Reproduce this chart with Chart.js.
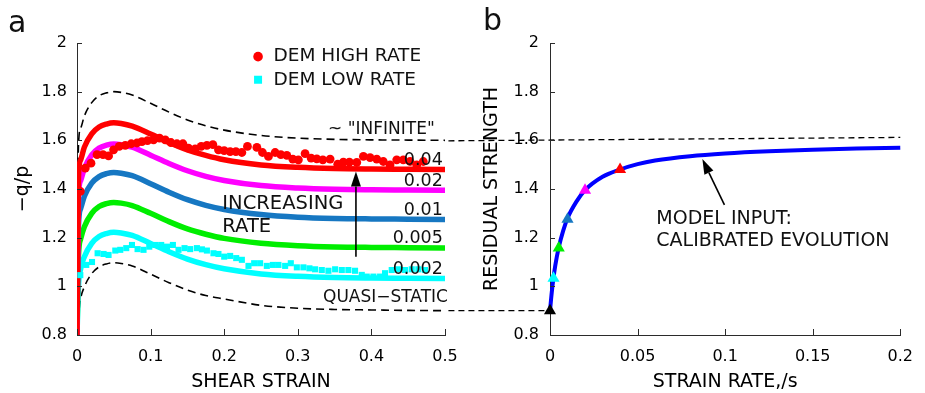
<!DOCTYPE html>
<html>
<head>
<meta charset="utf-8">
<script src="https://cdn.jsdelivr.net/npm/chart.js@4.4.1/dist/chart.umd.min.js"></script>
<style>
  html, body { margin: 0; padding: 0; background: #fff; }
  #wrap { position: relative; width: 925px; height: 393px; }
  #wrap canvas { position: absolute; left: 0; top: 0; }
</style>
</head>
<body>
<div id="wrap">
  <canvas id="strainChart" width="925" height="393"></canvas>
  <canvas id="rateChart" width="925" height="393"></canvas>
</div>
<script>
// ---------- panel a: stress ratio against shear strain ----------
const strainTicks = [0, 0.1, 0.2, 0.3, 0.4, 0.5];
const ratioTicks = [0.8, 1, 1.2, 1.4, 1.6, 1.8, 2];

const strain = [0, 0.002, 0.005, 0.01, 0.02, 0.03, 0.04, 0.05, 0.06, 0.075, 0.1,
  0.125, 0.15, 0.175, 0.2, 0.25, 0.3, 0.35, 0.4, 0.45, 0.5];

const ratioInfinite = [0.8, 1.58, 1.65, 1.70, 1.755, 1.783, 1.795, 1.80, 1.797, 1.786, 1.752,
  1.716, 1.684, 1.66, 1.642, 1.62, 1.609, 1.604, 1.602, 1.601, 1.60];
const ratio004 = [0.8, 1.45, 1.52, 1.572, 1.627, 1.655, 1.667, 1.672, 1.669, 1.658, 1.626,
  1.591, 1.561, 1.538, 1.52, 1.499, 1.489, 1.484, 1.482, 1.481, 1.48];
const ratio002 = [0.8, 1.365, 1.435, 1.485, 1.54, 1.568, 1.58, 1.585, 1.582, 1.572, 1.539,
  1.505, 1.475, 1.452, 1.435, 1.414, 1.404, 1.399, 1.397, 1.396, 1.395];
const ratio001 = [0.8, 1.25, 1.32, 1.37, 1.424, 1.451, 1.463, 1.468, 1.465, 1.455, 1.422,
  1.387, 1.356, 1.333, 1.316, 1.295, 1.284, 1.279, 1.277, 1.276, 1.275];
const ratio0005 = [0.8, 1.125, 1.195, 1.245, 1.3, 1.328, 1.340, 1.345, 1.342, 1.332, 1.3,
  1.266, 1.236, 1.214, 1.197, 1.177, 1.167, 1.162, 1.16, 1.159, 1.158];
const ratio0002 = [0.8, 1.0, 1.072, 1.122, 1.177, 1.205, 1.217, 1.222, 1.219, 1.209, 1.176,
  1.142, 1.112, 1.089, 1.072, 1.051, 1.041, 1.036, 1.034, 1.033, 1.032];
const ratioQuasi = [0.8, 0.88, 0.95, 0.998, 1.052, 1.08, 1.092, 1.097, 1.094, 1.084, 1.05,
  1.015, 0.985, 0.962, 0.948, 0.922, 0.91, 0.905, 0.903, 0.901, 0.90];

const curveRates = [0.04, 0.02, 0.01, 0.005, 0.002];

// DEM simulations
const demHighStrain = [0.0045, 0.0113, 0.019, 0.0272, 0.0353, 0.0429, 0.0497, 0.0574, 0.0656, 0.0737,
  0.0815, 0.0882, 0.0958, 0.104, 0.1121, 0.1199, 0.1276, 0.1358, 0.1439, 0.1515,
  0.1606, 0.1687, 0.1765, 0.1846, 0.1922, 0.2, 0.2081, 0.2159, 0.224, 0.2316,
  0.2444, 0.252, 0.2601, 0.2692, 0.2769, 0.2851, 0.2932, 0.3008, 0.3099, 0.3181,
  0.3258, 0.334, 0.3439, 0.3543, 0.3619, 0.3701, 0.3801, 0.3891, 0.3982, 0.4073,
  0.4162, 0.4253, 0.4344, 0.4434, 0.4525, 0.4616, 0.4705];
const demHighRatio = [1.39, 1.486, 1.506, 1.541, 1.541, 1.536, 1.561, 1.575, 1.579, 1.586,
  1.589, 1.595, 1.599, 1.602, 1.609, 1.602, 1.591, 1.586, 1.586, 1.568,
  1.565, 1.575, 1.579, 1.582, 1.561, 1.558, 1.554, 1.554, 1.55, 1.575,
  1.571, 1.55, 1.534, 1.55, 1.541, 1.538, 1.523, 1.52, 1.545, 1.527,
  1.524, 1.52, 1.523, 1.502, 1.51, 1.51, 1.509, 1.534, 1.529, 1.523,
  1.513, 1.499, 1.52, 1.52, 1.513, 1.499, 1.513];

const demLowStrain = [0.0045, 0.0126, 0.0204, 0.028, 0.0361, 0.0429, 0.052, 0.0588, 0.0669, 0.0747,
  0.0823, 0.0904, 0.0982, 0.1063, 0.1144, 0.1222, 0.1303, 0.1379, 0.1461, 0.1538,
  0.1629, 0.1697, 0.1765, 0.1854, 0.1922, 0.2, 0.2081, 0.2163, 0.224, 0.233,
  0.2407, 0.2488, 0.2579, 0.2661, 0.2737, 0.2828, 0.2905, 0.2987, 0.3076, 0.3158,
  0.3235, 0.3326, 0.3416, 0.3507, 0.3598, 0.3687, 0.3778, 0.3869, 0.3937, 0.4027,
  0.4118, 0.4185, 0.4276, 0.4366, 0.4457, 0.4548, 0.4638, 0.4728];
const demLowRatio = [1.046, 1.088, 1.10, 1.136, 1.133, 1.129, 1.147, 1.15, 1.157, 1.17,
  1.153, 1.15, 1.163, 1.17, 1.17, 1.163, 1.17, 1.15, 1.157, 1.153,
  1.157, 1.152, 1.147, 1.136, 1.133, 1.122, 1.125, 1.116, 1.109, 1.084,
  1.095, 1.095, 1.084, 1.088, 1.088, 1.084, 1.095, 1.078, 1.078, 1.074,
  1.07, 1.067, 1.064, 1.07, 1.067, 1.067, 1.064, 1.047, 1.04, 1.04,
  1.04, 1.054, 1.067, 1.07, 1.067, 1.07, 1.07, 1.067];

// ---------- panel b: residual strength against strain rate ----------
const rateTicks = [0, 0.05, 0.1, 0.15, 0.2];
const evolutionRate = [0, 0.001, 0.002, 0.003, 0.005, 0.0075, 0.01, 0.015, 0.02, 0.03,
  0.04, 0.05, 0.06, 0.08, 0.1, 0.125, 0.15, 0.175, 0.2];
const evolutionStrength = [0.9, 0.975, 1.035, 1.085, 1.16, 1.228, 1.28, 1.347, 1.395, 1.45,
  1.48, 1.502, 1.517, 1.535, 1.546, 1.555, 1.561, 1.566, 1.57];
const residualRates = [0, 0.002, 0.005, 0.01, 0.02, 0.04];
const residualStrength = [0.9, 1.033, 1.158, 1.276, 1.395, 1.48];
// guide lines carried over from panel a (left end sits under panel a's right edge)
const infiniteGuideRate = [-0.058, 0.2];
const infiniteGuideStrength = [1.598, 1.612];
const quasiGuideRate = [-0.058, 0];
const quasiGuideStrength = [0.9, 0.9];

const axisColor = '#2b2b2b';
const FONT = '"DejaVu Sans", sans-serif';
Chart.defaults.font.family = FONT;
Chart.defaults.color = '#000';

const zip = (xs, ys) => xs.map((x, i) => ({ x: x, y: ys[i] }));

function drawText(ctx, text, x, y, size, align) {
  ctx.font = size + 'px ' + FONT;
  ctx.textAlign = align;
  ctx.textBaseline = 'middle';
  ctx.fillStyle = '#111';
  ctx.fillText(text, x, y);
}

function drawArrow(ctx, x1, y1, x2, y2) {
  const a = Math.atan2(y2 - y1, x2 - x1);
  const len = 15, half = 5;
  const bx = x2 - Math.cos(a) * len, by = y2 - Math.sin(a) * len;
  ctx.strokeStyle = '#000';
  ctx.lineWidth = 1.6;
  ctx.setLineDash([]);
  ctx.beginPath();
  ctx.moveTo(x1, y1);
  ctx.lineTo(bx, by);
  ctx.stroke();
  ctx.beginPath();
  ctx.moveTo(x2, y2);
  ctx.lineTo(bx - Math.sin(a) * half, by + Math.cos(a) * half);
  ctx.lineTo(bx + Math.sin(a) * half, by - Math.cos(a) * half);
  ctx.closePath();
  ctx.fillStyle = '#000';
  ctx.fill();
}

// matlab style ticks pointing into the plot
function innerTicks(chart) {
  const { ctx, chartArea: area, scales: { x, y } } = chart;
  ctx.save();
  ctx.strokeStyle = axisColor;
  ctx.lineWidth = 1;
  ctx.beginPath();
  x.ticks.forEach(t => {
    const px = Math.round(x.getPixelForValue(t.value)) + 0.5;
    ctx.moveTo(px, area.bottom);
    ctx.lineTo(px, area.bottom - 6);
  });
  y.ticks.forEach(t => {
    const py = Math.round(y.getPixelForValue(t.value)) + 0.5;
    ctx.moveTo(area.left, py);
    ctx.lineTo(area.left + 5, py);
  });
  ctx.stroke();
  ctx.restore();
}

function makeScales(xTicks, xMin, xMax, xTitle, yTitle, yWidth, yPad) {
  const common = {
    type: 'linear',
    grid: { display: true, drawOnChartArea: false, drawTicks: false },
    border: { display: true, color: axisColor, width: 1 }
  };
  return {
    x: Object.assign({}, common, {
      min: xMin, max: xMax,
      afterBuildTicks: s => { s.ticks = xTicks.map(v => ({ value: v })); },
      afterFit: s => { s.height = 58; },
      ticks: { padding: 12, maxRotation: 0, autoSkip: false, font: { size: 16 }, callback: v => String(v) },
      title: { display: true, text: xTitle, font: { size: 19 }, padding: 0 }
    }),
    y: Object.assign({}, common, {
      min: 0.8, max: 2,
      afterBuildTicks: s => { s.ticks = ratioTicks.map(v => ({ value: v })); },
      afterFit: s => { s.width = yWidth; },
      ticks: { padding: yPad, font: { size: 16 }, callback: v => String(v) },
      title: { display: true, text: yTitle, font: { size: 19 }, padding: 0 }
    })
  };
}

const curve = (ys, color, dash) => ({
  data: zip(strain, ys),
  borderColor: color,
  borderWidth: dash ? 1.6 : 5.5,
  borderDash: dash ? [8, 5] : [],
  pointRadius: 0,
  cubicInterpolationMode: 'monotone',
  clip: 0
});

const strainDecor = {
  id: 'strainDecor',
  afterDraw(chart) {
    const { ctx, chartArea: area, scales: { x, y } } = chart;
    const px = v => x.getPixelForValue(v), py = v => y.getPixelForValue(v);
    innerTicks(chart);
    ctx.save();
    drawText(ctx, 'a', area.left - 69, area.top - 19, 30, 'left');

    // legend
    ctx.fillStyle = '#ff0000';
    ctx.beginPath();
    ctx.arc(px(0.246), py(1.944), 4.8, 0, Math.PI * 2);
    ctx.fill();
    ctx.fillStyle = '#00ffff';
    ctx.fillRect(px(0.246) - 4, py(1.849) - 4, 8, 8);
    drawText(ctx, 'DEM HIGH RATE', px(0.267), py(1.944), 18.5, 'left');
    drawText(ctx, 'DEM LOW RATE', px(0.267), py(1.849), 18.5, 'left');

    // rate of each model curve, just above its residual level
    const ends = [ratio004, ratio002, ratio001, ratio0005, ratio0002];
    curveRates.forEach((r, i) => {
      const yEnd = ends[i][ends[i].length - 1];
      drawText(ctx, String(r), px(0.497), py(yEnd) - 9, 17.5, 'right');
    });
    drawText(ctx, '~ "INFINITE"', px(0.486), py(1.643), 17, 'right');
    drawText(ctx, 'QUASI\u2212STATIC', px(0.504), py(0.952), 17, 'right');
    drawText(ctx, 'INCREASING', px(0.1975), py(1.339), 19.5, 'left');
    drawText(ctx, 'RATE', px(0.1975), py(1.246), 19.5, 'left');

    drawArrow(ctx, px(0.379), py(1.122), px(0.379), py(1.472));
    ctx.restore();
  }
};

new Chart(document.getElementById('strainChart'), {
  type: 'line',
  data: {
    datasets: [
      {
        data: zip(demHighStrain, demHighRatio), showLine: false,
        pointStyle: 'circle', pointRadius: 4.4, pointBorderWidth: 0,
        pointBackgroundColor: '#ff0000', clip: 0
      },
      {
        data: zip(demLowStrain, demLowRatio), showLine: false,
        pointStyle: 'rect', pointRadius: 4.3, pointBorderWidth: 0,
        pointBackgroundColor: '#00ffff', clip: 0
      },
      curve(ratio004, '#ff0000'),
      curve(ratio002, '#ff00ff'),
      curve(ratio001, '#1677c2'),
      curve(ratio0005, '#00ee00'),
      curve(ratio0002, '#00ffff'),
      curve(ratioInfinite, '#000', true),
      curve(ratioQuasi, '#000', true)
    ]
  },
  options: {
    responsive: false,
    animation: false,
    layout: { padding: { left: 12, right: 480, top: 43, bottom: 0 } },
    plugins: { legend: { display: false }, tooltip: { enabled: false } },
    scales: makeScales(strainTicks, 0, 0.5, 'SHEAR STRAIN', '\u2212q/p', 65, 10)
  },
  plugins: [strainDecor]
});

const rateDecor = {
  id: 'rateDecor',
  afterDraw(chart) {
    const { ctx, chartArea: area, scales: { x, y } } = chart;
    const px = v => x.getPixelForValue(v), py = v => y.getPixelForValue(v);
    innerTicks(chart);
    ctx.save();
    drawText(ctx, 'b', area.left - 67, area.top - 21, 30, 'left');
    drawText(ctx, 'MODEL INPUT:', px(0.0607), py(1.276), 19, 'left');
    drawText(ctx, 'CALIBRATED EVOLUTION', px(0.0607), py(1.184), 19, 'left');
    drawArrow(ctx, px(0.0996), py(1.335), px(0.087), py(1.523));
    ctx.restore();
  }
};

new Chart(document.getElementById('rateChart'), {
  type: 'line',
  data: {
    datasets: [
      {
        data: zip(residualRates, residualStrength), showLine: false,
        pointStyle: 'triangle', pointRadius: 7, pointBorderWidth: 0,
        pointBackgroundColor: ['#000000', '#00ffff', '#00ee00', '#1677c2', '#ff00ff', '#ff0000'],
        clip: false
      },
      {
        data: zip(evolutionRate, evolutionStrength), borderColor: '#0000ff',
        borderWidth: 4, pointRadius: 0, cubicInterpolationMode: 'monotone', clip: false
      },
      {
        data: zip(infiniteGuideRate, infiniteGuideStrength), borderColor: '#000',
        borderWidth: 1.3, borderDash: [6, 4], pointRadius: 0, clip: false
      },
      {
        data: zip(quasiGuideRate, quasiGuideStrength), borderColor: '#000',
        borderWidth: 1.3, borderDash: [6, 4], pointRadius: 0, clip: false
      }
    ]
  },
  options: {
    responsive: false,
    animation: false,
    layout: { padding: { left: 481, right: 15, top: 43, bottom: 0 } },
    plugins: { legend: { display: false }, tooltip: { enabled: false } },
    scales: makeScales(rateTicks, 0, 0.2, 'STRAIN RATE,/s', 'RESIDUAL STRENGTH', 69, 11)
  },
  plugins: [rateDecor]
});
</script>
</body>
</html>
